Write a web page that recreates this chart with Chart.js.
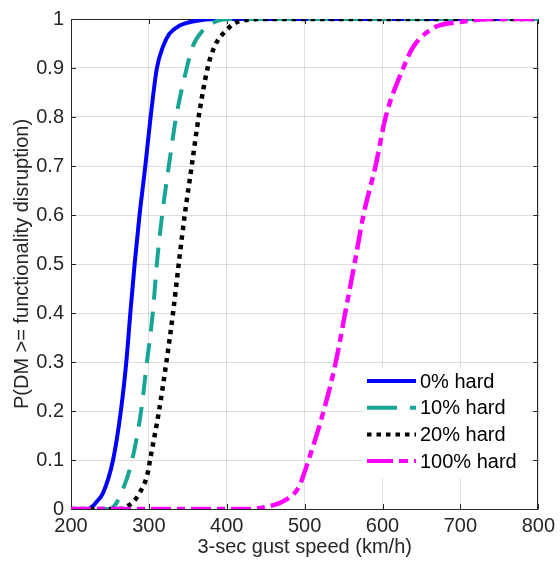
<!DOCTYPE html>
<html>
<head>
<meta charset="utf-8">
<script src="https://cdn.jsdelivr.net/npm/chart.js@4.4.1/dist/chart.umd.min.js"></script>
<style>
  html, body { margin: 0; padding: 0; background: #ffffff; }
  #wrap { width: 560px; height: 567px; position: relative; }
</style>
</head>
<body>
<div id="wrap"><canvas id="chart" width="560" height="567"></canvas></div>
<script>
// Axis ticks and labels
const speedTicks = [200, 300, 400, 500, 600, 700, 800];
const speedTickLabels = ['200', '300', '400', '500', '600', '700', '800'];
const probTicks = [0, 0.1, 0.2, 0.3, 0.4, 0.5, 0.6, 0.7, 0.8, 0.9, 1];
const probTickLabels = ['0', '0.1', '0.2', '0.3', '0.4', '0.5', '0.6', '0.7', '0.8', '0.9', '1'];

// Series names
const seriesNames = ['0% hard', '10% hard', '20% hard', '100% hard'];

// Fragility curves: gust speed (km/h) vs probability
const hard0Speed = [200, 222, 228, 233, 241, 254, 264, 271, 276.2, 281.7, 288, 295.4, 302.2, 310.3, 318, 326.4, 339, 360, 385, 800];
const hard0Prob  = [0, 0, 0.006, 0.015, 0.032, 0.1, 0.2, 0.3, 0.4, 0.5, 0.6, 0.7, 0.8, 0.9, 0.943, 0.97, 0.986, 0.996, 1, 1];

const hard10Speed = [200, 250, 255, 264, 278.5, 290, 297.5, 305, 310.2, 317, 325.6, 335, 348.6, 356, 369, 386, 405, 800];
const hard10Prob  = [0, 0, 0.005, 0.03, 0.1, 0.2, 0.3, 0.4, 0.5, 0.6, 0.7, 0.8, 0.9, 0.943, 0.976, 0.995, 1, 1];

const hard20Speed = [200, 262, 270, 280, 287, 298, 301.5, 313, 322.5, 331, 338.3, 346, 355, 363.9, 375.4, 384, 398.8, 415.8, 450, 800];
const hard20Prob  = [0, 0, 0.004, 0.015, 0.03, 0.07, 0.1, 0.2, 0.3, 0.4, 0.5, 0.6, 0.7, 0.8, 0.9, 0.943, 0.976, 0.995, 1, 1];

const hard100Speed = [200, 430, 450, 475, 492.5, 505, 524.4, 540, 552, 564, 575.5, 591, 604, 626.6, 639.3, 667, 700, 740, 800];
const hard100Prob  = [0, 0, 0.004, 0.018, 0.045, 0.1, 0.2, 0.3, 0.4, 0.5, 0.6, 0.7, 0.8, 0.9, 0.943, 0.983, 0.994, 1, 1];

const toPoints = (xs, ys) => xs.map((x, i) => ({ x: x, y: ys[i] }));

const TEXT = '#262626';
const FONT = "'Liberation Sans', Arial, Helvetica, sans-serif";

const styles = [
  { color: '#0000ff', dash: [], legendDash: [], width: 4 },
  { color: '#17a596', dash: [20, 12], legendDash: [30, 13], width: 4 },
  { color: '#000000', dash: [4.5, 5], legendDash: [4.5, 5], width: 4.5 },
  { color: '#ff00ff', dash: [20, 6, 8, 6], legendDash: [26, 6, 9, 6], width: 4.5 }
];

const seriesData = [
  toPoints(hard0Speed, hard0Prob),
  toPoints(hard10Speed, hard10Prob),
  toPoints(hard20Speed, hard20Prob),
  toPoints(hard100Speed, hard100Prob)
];

const datasets = seriesData.map((pts, i) => ({
  label: seriesNames[i],
  data: pts,
  borderColor: styles[i].color,
  backgroundColor: styles[i].color,
  borderWidth: styles[i].width,
  borderDash: styles[i].dash,
  borderCapStyle: 'butt',
  borderJoinStyle: 'round',
  pointRadius: 0,
  fill: false,
  cubicInterpolationMode: 'monotone',
  order: seriesNames.length - 1 - i
}));

// Box frame with inward tick marks, drawn beneath the curves
const framePlugin = {
  id: 'frame',
  beforeDatasetsDraw(chart) {
    const { ctx, chartArea: a, scales } = chart;
    const tl = 5;
    ctx.save();
    ctx.strokeStyle = TEXT;
    ctx.lineWidth = 1;
    ctx.beginPath();
    ctx.rect(Math.round(a.left) + 0.5, Math.round(a.top) + 0.5,
             Math.round(a.right - a.left) - 1, Math.round(a.bottom - a.top));
    ctx.stroke();
    ctx.beginPath();
    speedTicks.forEach(v => {
      const x = Math.round(scales.x.getPixelForValue(v)) + 0.5;
      ctx.moveTo(x, a.bottom); ctx.lineTo(x, a.bottom - tl);
      ctx.moveTo(x, a.top); ctx.lineTo(x, a.top + tl);
    });
    probTicks.forEach(v => {
      const y = Math.round(scales.y.getPixelForValue(v)) + 0.5;
      ctx.moveTo(a.left, y); ctx.lineTo(a.left + tl, y);
      ctx.moveTo(a.right, y); ctx.lineTo(a.right - tl, y);
    });
    ctx.stroke();
    ctx.restore();
  }
};

// Legend with line samples in the lower right of the plot
const legendPlugin = {
  id: 'lineLegend',
  afterDatasetsDraw(chart) {
    const { ctx } = chart;
    const boxL = 363, boxT = 368, boxR = 530, boxB = 478;
    const lineX0 = 367, lineX1 = 416, textX = 420;
    const rowY0 = 381, rowStep = 26.7;
    ctx.save();
    ctx.fillStyle = '#ffffff';
    ctx.fillRect(boxL, boxT, boxR - boxL, boxB - boxT);
    ctx.font = '20px ' + FONT;
    ctx.textBaseline = 'middle';
    ctx.textAlign = 'left';
    seriesNames.forEach((name, i) => {
      const y = rowY0 + i * rowStep;
      ctx.strokeStyle = styles[i].color;
      ctx.lineWidth = 4;
      ctx.lineCap = 'butt';
      ctx.setLineDash(styles[i].legendDash);
      ctx.beginPath();
      ctx.moveTo(lineX0, y);
      ctx.lineTo(lineX1, y);
      ctx.stroke();
      ctx.setLineDash([]);
      ctx.fillStyle = '#000000';
      ctx.fillText(name, textX, y + 1);
    });
    ctx.restore();
  }
};

new Chart(document.getElementById('chart'), {
  type: 'line',
  data: { datasets: datasets },
  options: {
    responsive: false,
    animation: false,
    layout: { padding: { top: 15, right: 20, left: 0, bottom: 0 } },
    plugins: { legend: { display: false }, tooltip: { enabled: false } },
    scales: {
      x: {
        type: 'linear',
        min: 200,
        max: 800,
        afterBuildTicks: s => { s.ticks = speedTicks.map(v => ({ value: v })); },
        afterFit: s => { s.height = 58; },
        ticks: {
          callback: (v, i) => speedTickLabels[i],
          color: TEXT,
          font: { family: FONT, size: 20 },
          padding: 5,
          maxRotation: 0,
          autoSkip: false
        },
        grid: { color: 'rgba(38,38,38,0.15)', lineWidth: 1, drawTicks: false },
        border: { display: false },
        title: {
          display: true,
          text: '3-sec gust speed (km/h)',
          color: TEXT,
          font: { family: FONT, size: 20 },
          padding: { top: 0, bottom: 8 }
        }
      },
      y: {
        type: 'linear',
        min: 0,
        max: 1,
        afterBuildTicks: s => { s.ticks = probTicks.map(v => ({ value: v })); },
        afterFit: s => { s.width = 71; },
        ticks: {
          callback: (v, i) => probTickLabels[i],
          color: TEXT,
          font: { family: FONT, size: 20 },
          padding: 7,
          autoSkip: false
        },
        grid: { color: 'rgba(38,38,38,0.15)', lineWidth: 1, drawTicks: false },
        border: { display: false },
        title: {
          display: true,
          text: 'P(DM >= functionality disruption)',
          color: TEXT,
          font: { family: FONT, size: 20 },
          padding: { top: 10, bottom: 0 }
        }
      }
    }
  },
  plugins: [framePlugin, legendPlugin]
});
</script>
</body>
</html>
